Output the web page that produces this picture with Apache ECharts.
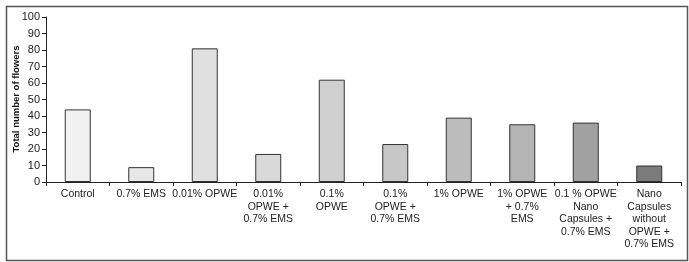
<!DOCTYPE html>
<html>
<head>
<meta charset="utf-8">
<script src="https://cdn.jsdelivr.net/npm/echarts@6/dist/echarts.min.js"></script>
<style>
html,body{margin:0;padding:0;background:#fff;}
#chart{width:689px;height:262px;}
</style>
</head>
<body>
<div id="chart"></div>
<script>
const categories = [
  'Control',
  '0.7% EMS',
  '0.01% OPWE',
  '0.01%\nOPWE +\n0.7% EMS',
  '0.1%\nOPWE',
  '0.1%\nOPWE +\n0.7% EMS',
  '1% OPWE',
  '1% OPWE\n+ 0.7%\nEMS',
  '0.1 % OPWE\nNano\nCapsules +\n0.7% EMS',
  'Nano\nCapsules\nwithout\nOPWE +\n0.7% EMS'
];
const flowers = [44, 9, 81, 17, 62, 23, 39, 35, 36, 10];
const barColors = ['#f1f1f1', '#e7e7e7', '#e0e0e0', '#d9d9d9', '#d0d0d0', '#c7c7c7', '#bcbcbc', '#b4b4b4', '#a1a1a1', '#7b7b7b'];
const yTicks = [0, 10, 20, 30, 40, 50, 60, 70, 80, 90, 100];
const yTitle = 'Total number of flowers';

const font = '"Liberation Sans Narrow", "Liberation Sans", Arial, sans-serif';
const chart = echarts.init(document.getElementById('chart'), null, {renderer: 'canvas'});
chart.setOption({
  animation: false,
  backgroundColor: '#fff',
  graphic: [{
    type: 'rect',
    left: 4, top: 4,
    shape: {width: 681, height: 254},
    style: {fill: 'none', stroke: '#555', lineWidth: 1.5},
    silent: true
  }, {
    type: 'text',
    x: 16, y: 99,
    rotation: Math.PI / 2,
    style: {text: yTitle, fontSize: 9.5, fontWeight: 'bold', fill: '#111', fontFamily: font, align: 'center', verticalAlign: 'middle'},
    silent: true
  }],
  grid: {left: 46, right: 8, top: 17, bottom: 80, containLabel: false},
  xAxis: {
    type: 'category',
    data: categories,
    axisLine: {show: true, lineStyle: {color: '#222', width: 1}},
    axisTick: {show: true, alignWithLabel: false, length: 4, lineStyle: {color: '#222'}},
    axisLabel: {interval: 0, fontSize: 10.5, lineHeight: 12.5, margin: 6, color: '#222', fontFamily: font}
  },
  yAxis: {
    type: 'value',
    min: yTicks[0], max: yTicks[yTicks.length - 1], interval: 10,
    axisLine: {show: true, lineStyle: {color: '#222', width: 1}},
    axisTick: {show: true, length: 4, lineStyle: {color: '#222'}},
    axisLabel: {fontSize: 11, color: '#222', margin: 6, fontFamily: font},
    splitLine: {show: false}
  },
  series: [{
    type: 'bar',
    barWidth: 26,
    data: flowers.map((v, i) => ({value: v, itemStyle: {color: barColors[i]}})),
    itemStyle: {borderColor: '#333', borderWidth: 1}
  }]
});
</script>
</body>
</html>
